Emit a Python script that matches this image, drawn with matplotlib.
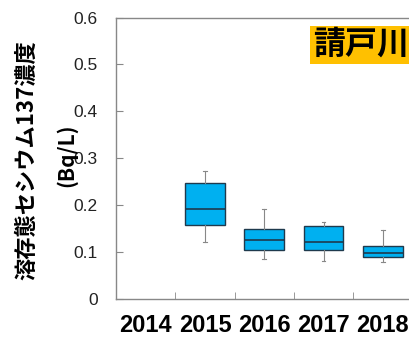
import numpy as np
from matplotlib import pyplot as plt

plt.rcParams['font.family'] = ['Liberation Sans', 'DejaVu Sans']

# データ
years = ['2014', '2015', '2016', '2017', '2018']
q1 = [None, 0.158, 0.104, 0.104, 0.090]
med = [None, 0.191, 0.126, 0.121, 0.097]
q3 = [None, 0.247, 0.149, 0.156, 0.114]
whislo = [None, 0.122, 0.085, 0.082, 0.078]
whishi = [None, 0.273, 0.192, 0.165, 0.147]
yticks = [0, 0.1, 0.2, 0.3, 0.4, 0.5, 0.6]
ytick_labels = ['0', '0.1', '0.2', '0.3', '0.4', '0.5', '0.6']

W, H = 409, 338
fig = plt.figure(figsize=(W / 100, H / 100), dpi=100)
# 右端は画像の外まで伸びている
left, right, top, bottom = 116, 412.5, 17.5, 299
ax = fig.add_axes([left / W, 1 - bottom / H, (right - left) / W, (bottom - top) / H])

stats = []
pos = []
for i, y in enumerate(years):
    if med[i] is None:
        continue
    stats.append({'q1': q1[i], 'med': med[i], 'q3': q3[i],
                  'whislo': whislo[i], 'whishi': whishi[i], 'fliers': []})
    pos.append(i + 1)

ax.bxp(stats, positions=pos, widths=0.67, patch_artist=True, showfliers=False,
       boxprops=dict(facecolor='#00B0F0', edgecolor='#1f3a4d', linewidth=1.0),
       medianprops=dict(color='#1f3a4d', linewidth=1.2),
       whiskerprops=dict(color='#888888', linewidth=0.8),
       capprops=dict(color='#888888', linewidth=0.8),
       capwidths=0.06)

ax.set_xlim(0.5, len(years) + 0.5)
ax.set_ylim(0, 0.6)
ax.set_yticks(yticks)
ax.set_yticklabels(ytick_labels, fontsize=12.5, color='#222222')
ax.set_xticks(range(1, len(years) + 1))
ax.set_xticklabels(years, fontsize=17, fontweight='bold')
ax.set_xticks(np.arange(1.5, len(years), 1), minor=True)
ax.tick_params(axis='x', which='major', length=0, pad=11)
ax.tick_params(axis='x', which='minor', length=5, direction='in', color='#888888')
ax.tick_params(axis='y', length=5, direction='in', color='#888888', pad=13)
for s in ax.spines.values():
    s.set_color('#888888')
    s.set_linewidth(1.0)

# 縦軸ラベル
fig.text(27 / W, 1 - 160 / H, '溶存態セシウム137濃度', rotation=90, ha='center', va='center',
         fontsize=16, fontweight='bold', family=['Noto Sans CJK JP', 'DejaVu Sans'])
fig.text(66 / W, 1 - 155 / H, '(Bq/L)', rotation=90, ha='center', va='center',
         fontsize=15, fontweight='bold', family=['Noto Sans CJK JP', 'DejaVu Sans'])

# 河川名
fig.text(313 / W, 1 - 45 / H, '請戸川', ha='left', va='center', fontsize=23, fontweight='bold',
         family=['Noto Sans CJK JP', 'DejaVu Sans'],
         bbox=dict(facecolor='#FFC000', edgecolor='none', pad=2))

plt.savefig('out.png', dpi=100)
